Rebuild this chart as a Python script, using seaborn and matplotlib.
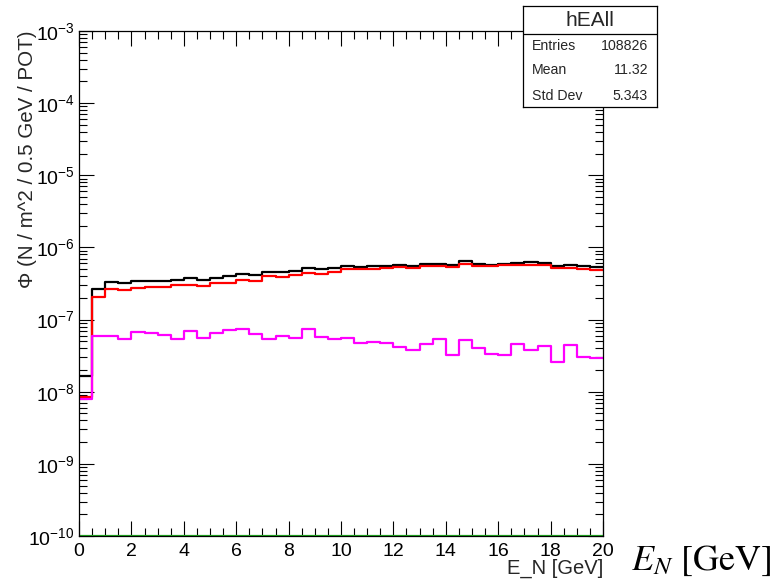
import numpy as np
import pandas as pd
import matplotlib
matplotlib.use("Agg")
import matplotlib.pyplot as plt
import seaborn as sns
from matplotlib.ticker import LogLocator, MultipleLocator, LogFormatterSciNotation, NullFormatter

# ---------------- data ----------------
x_min, x_max, n_bins = 0.0, 20.0, 40
bin_width = (x_max - x_min) / n_bins

black_flux = [1.67e-8, 2.68e-7, 3.35e-7, 3.18e-7, 3.46e-7, 3.46e-7, 3.46e-7, 3.57e-7,
              3.73e-7, 3.53e-7, 3.81e-7, 3.98e-7, 4.28e-7, 4.17e-7, 4.56e-7, 4.56e-7,
              4.66e-7, 5.13e-7, 5.02e-7, 5.19e-7, 5.53e-7, 5.40e-7, 5.53e-7, 5.53e-7,
              5.65e-7, 5.60e-7, 5.85e-7, 5.89e-7, 5.70e-7, 6.41e-7, 5.89e-7, 5.70e-7,
              5.89e-7, 6.14e-7, 6.34e-7, 6.14e-7, 5.53e-7, 5.65e-7, 5.53e-7, 5.35e-7]
red_flux = [8.4e-9, 2.03e-7, 2.65e-7, 2.57e-7, 2.74e-7, 2.86e-7, 2.86e-7, 3.01e-7,
            3.01e-7, 2.92e-7, 3.21e-7, 3.21e-7, 3.53e-7, 3.46e-7, 4.02e-7, 3.93e-7,
            4.19e-7, 4.46e-7, 4.33e-7, 4.56e-7, 4.97e-7, 4.97e-7, 4.97e-7, 5.13e-7,
            5.35e-7, 5.19e-7, 5.53e-7, 5.53e-7, 5.29e-7, 5.89e-7, 5.53e-7, 5.53e-7,
            5.65e-7, 5.77e-7, 5.77e-7, 5.70e-7, 5.13e-7, 5.13e-7, 5.02e-7, 4.86e-7]
magenta_flux = [8.0e-9, 5.86e-8, 5.97e-8, 5.43e-8, 6.65e-8, 6.44e-8, 6.17e-8, 5.43e-8,
                6.93e-8, 5.55e-8, 6.52e-8, 7.09e-8, 7.32e-8, 6.36e-8, 5.32e-8, 5.97e-8,
                5.55e-8, 7.32e-8, 5.78e-8, 5.43e-8, 5.61e-8, 4.69e-8, 4.94e-8, 4.69e-8,
                4.21e-8, 3.79e-8, 4.54e-8, 5.32e-8, 3.19e-8, 5.26e-8, 3.99e-8, 3.30e-8,
                3.19e-8, 4.54e-8, 3.79e-8, 4.34e-8, 2.56e-8, 4.44e-8, 3.05e-8, 2.96e-8]
green_flux = [0.0] * n_bins

series_names = ["black", "red", "magenta", "green"]
series_colors = {"black": "#000000", "red": "#ff0000", "magenta": "#ff00ff", "green": "#22b022"}

stats_title = "hEAll"
stats_labels = ["Entries", "Mean", "Std Dev"]
stats_values = ["108826", "11.32", "5.343"]

y_min, y_max = 1e-10, 1e-3

# ---------------- build table ----------------
left_edges = x_min + bin_width * np.arange(n_bins)
rows = []
for name, vals in zip(series_names, [black_flux, red_flux, magenta_flux, green_flux]):
    vals = np.clip(np.asarray(vals, dtype=float), y_min, None)
    xs = np.append(left_edges, x_max)
    ys = np.append(vals, vals[-1])
    for xv, yv in zip(xs, ys):
        rows.append({"E": xv, "flux": yv, "series": name})
df = pd.DataFrame(rows)

# ---------------- style ----------------
sns.set_style("ticks")
plt.rcParams["font.family"] = ["Liberation Sans", "DejaVu Sans"]
plt.rcParams["mathtext.fontset"] = "custom"
plt.rcParams["mathtext.rm"] = "Liberation Sans"
plt.rcParams["mathtext.it"] = "Liberation Sans:italic"
plt.rcParams["axes.linewidth"] = 0.9

fig = plt.figure(figsize=(7.8, 5.85), dpi=100)
ax = fig.add_axes([79 / 780, 1 - 536 / 585, 524 / 780, 505 / 585])
ax.set_yscale("log")

sns.lineplot(data=df, x="E", y="flux", hue="series", hue_order=series_names,
             palette=series_colors, drawstyle="steps-post", estimator=None,
             sort=False, legend=False, linewidth=1.6, ax=ax)

ax.set_xlim(x_min, x_max)
ax.set_ylim(y_min, y_max)

ax.xaxis.set_major_locator(MultipleLocator(2))
ax.xaxis.set_minor_locator(MultipleLocator(0.5))
ax.yaxis.set_major_locator(LogLocator(base=10, numticks=20))
ax.yaxis.set_minor_locator(LogLocator(base=10, subs=np.arange(2, 10), numticks=20))
ax.yaxis.set_major_formatter(LogFormatterSciNotation())
ax.yaxis.set_minor_formatter(NullFormatter())

ax.tick_params(which="both", direction="in", top=True, right=True, colors="black",
               labelsize=14, width=0.8)
ax.tick_params(which="major", length=11)
ax.tick_params(which="minor", length=5.5)
ax.tick_params(axis="x", which="major", pad=5)
ax.tick_params(axis="y", which="major", pad=3)

ax.set_xlabel("E_N [GeV]", fontsize=14.5, loc="right")
ax.xaxis.set_label_coords(1.0, -0.045)
ax.set_ylabel("\u03a6 (N / m^2 / 0.5 GeV / POT)", fontsize=14.8, loc="top")
ax.yaxis.set_label_coords(-0.080, 1.0)

for s in ax.spines.values():
    s.set_color("black")

# big annotation
fig.text(631 / 780, 1 - 561 / 585, r"$E_N\ [\mathrm{GeV}]$", fontsize=26,
         math_fontfamily="stix", ha="left", va="center", color="black")

# ---------------- stats box ----------------
bx = fig.add_axes([523 / 780, 1 - 107 / 585, 134 / 780, 101 / 585])
bx.set_xlim(0, 1)
bx.set_ylim(0, 1)
bx.set_xticks([])
bx.set_yticks([])
bx.set_facecolor("white")
for s in bx.spines.values():
    s.set_color("black")
    s.set_linewidth(0.9)
bx.axhline(0.723, color="black", linewidth=0.9)
bx.text(0.5, 0.86, stats_title, ha="center", va="center", fontsize=15)
row_y = [0.594, 0.356, 0.099]
for lab, val, yy in zip(stats_labels, stats_values, row_y):
    bx.text(0.067, yy + 0.01, lab, ha="left", va="center", fontsize=10.2)
    bx.text(0.933, yy + 0.01, val, ha="right", va="center", fontsize=10.2)

fig.savefig("out.png", dpi=100)
